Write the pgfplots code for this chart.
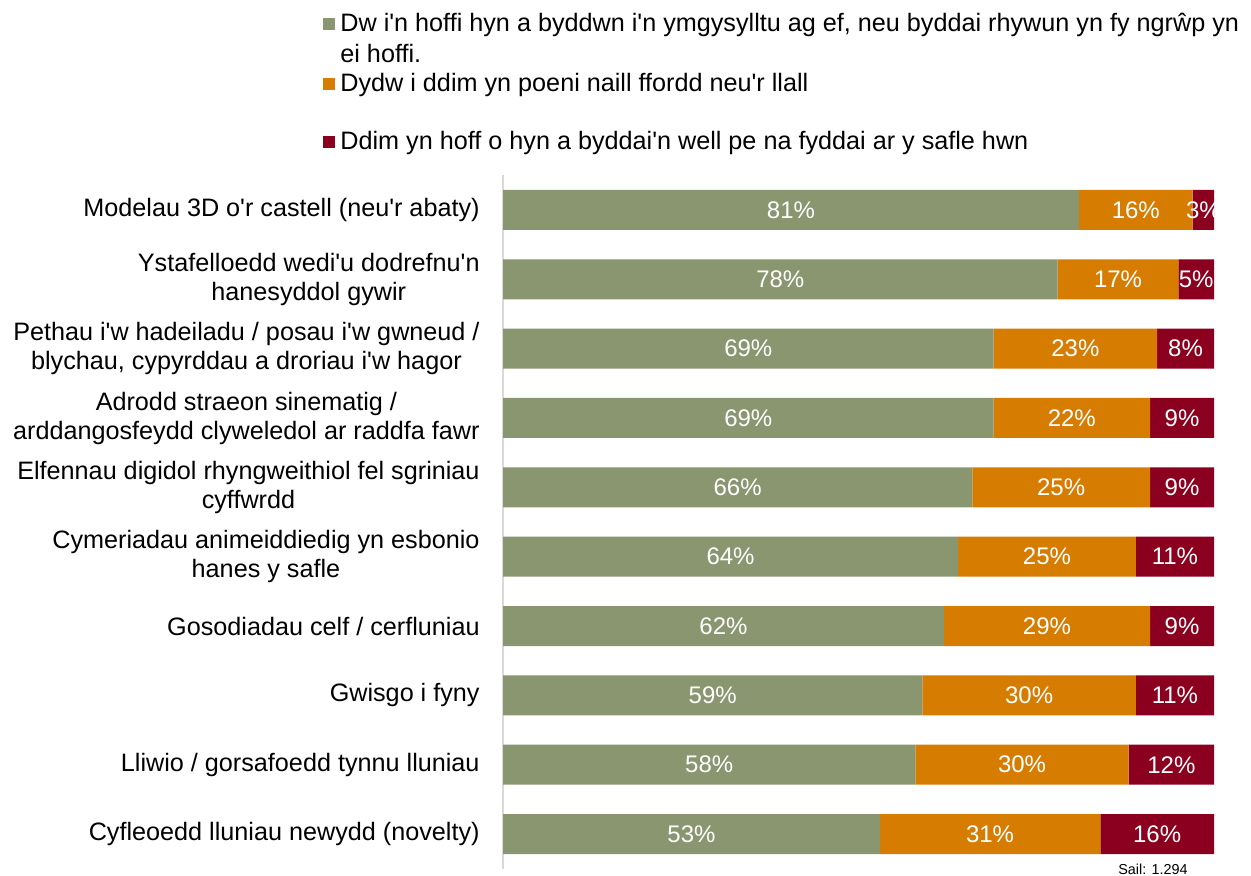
\documentclass[border=0pt]{standalone}
\usepackage{pgfplots}
\pgfplotsset{compat=1.18}
\usepackage{pgfplotstable}
\usepackage{fontspec}
\setmainfont{Liberation Sans}[Ligatures=TeXOff]
\definecolor{cgreen}{RGB}{137,150,112}
\definecolor{corange}{RGB}{214,124,0}
\definecolor{cred}{RGB}{139,0,30}
\definecolor{caxis}{RGB}{217,217,217}

\pgfplotstableread{
y a b c
0 81 16 3
1 78 17 5
2 69 23 8
3 69 22 9
4 66 25 9
5 64 25 11
6 62 29 9
7 59 30 11
8 58 30 12
9 53 31 16
}\data

\pgfplotsset{
  common/.style={
    at={(251.5pt,3.65pt)}, anchor=south west,
    scale only axis, width=355.5pt, height=346.7pt,
    xmin=0, xmax=100, ymin=-0.5, ymax=9.5, y dir=reverse,
    major tick length=0pt,
    /pgf/number format/assume math mode=true,
  },
  lab/.style={draw=none, mark=none, nodes near coords={\pgfmathprintnumber{\pgfplotspointmeta}\%},
    point meta=explicit,
    nodes near coords style={anchor=center, text=white, font=\fontsize{12}{13}\selectfont}},
}

\begin{document}
\begin{tikzpicture}[x=1pt,y=1pt]
\path[use as bounding box] (0,0) rectangle (625.5,438);
\begin{axis}[common,
  xbar stacked, bar width=20pt,
  axis x line=none, axis y line=left,
  axis line style={-, draw=caxis, line width=0.8pt},
  xtick=\empty,
  ytick={0,...,9},
  yticklabels={
    {Modelau 3D o'r castell (neu'r abaty)},
    {Ystafelloedd wedi'u dodrefnu'n\\hanesyddol gywir},
    {Pethau i'w hadeiladu / posau i'w gwneud /\\blychau, cypyrddau a droriau i'w hagor},
    {Adrodd straeon sinematig /\\arddangosfeydd clyweledol ar raddfa fawr},
    {Elfennau digidol rhyngweithiol fel sgriniau\\cyffwrdd},
    {Cymeriadau animeiddiedig yn esbonio\\hanes y safle},
    {Gosodiadau celf / cerfluniau},
    {Gwisgo i fyny},
    {Lliwio / gorsafoedd tynnu lluniau},
    {Cyfleoedd lluniau newydd (novelty)}},
  yticklabel style={align=center, inner sep=0pt, xshift=-11.5pt,
    font=\fontsize{12.6}{14.5}\selectfont},
]
\addplot[fill=cgreen, draw=none] table[x=a, y=y] \data;
\addplot[fill=corange, draw=none] table[x=b, y=y] \data;
\addplot[fill=cred, draw=none] table[x=c, y=y] \data;
\end{axis}
\begin{axis}[common, hide axis]
\addplot[lab] table[x expr=\thisrow{a}/2, y=y, meta=a] \data;
\addplot[lab] table[x expr=\thisrow{a}+\thisrow{b}/2, y=y, meta=b] \data;
\addplot[lab] table[x expr=\thisrow{a}+\thisrow{b}+\thisrow{c}/2, y=y, meta=c] \data;
\end{axis}
% legend
\begin{scope}[font=\fontsize{12.6}{15.5}\selectfont]
\fill[cgreen] (161.5,423) rectangle (167.7,429.2);
\node[anchor=base west, inner sep=0pt] at (170,422) {Dw i'n hoffi hyn a byddwn i'n ymgysylltu ag ef, neu byddai rhywun yn fy ngrŵp yn};
\node[anchor=base west, inner sep=0pt] at (170,406.5) {ei hoffi.};
\fill[corange] (161.5,393) rectangle (167.7,399.2);
\node[anchor=base west, inner sep=0pt] at (170,392) {Dydw i ddim yn poeni naill ffordd neu'r llall};
\fill[cred] (161.5,364) rectangle (167.7,370.2);
\node[anchor=base west, inner sep=0pt] at (170,363) {Ddim yn hoff o hyn a byddai'n well pe na fyddai ar y safle hwn};
\end{scope}
\node[font=\fontsize{7.2}{8}\selectfont, inner sep=0pt] at (576.5,3.5) {Sail: 1.294};
\end{tikzpicture}
\end{document}
